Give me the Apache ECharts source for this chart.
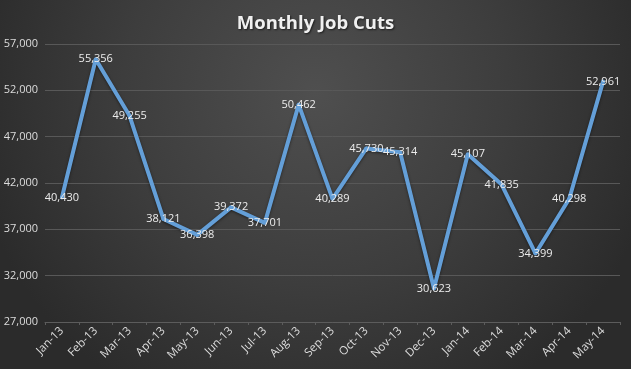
<!DOCTYPE html>
<html>
<head>
<meta charset="utf-8">
<script src="https://cdn.jsdelivr.net/npm/echarts@6/dist/echarts.min.js"></script>
<style>html,body{margin:0;padding:0;background:#2e2e2e}#c{width:631px;height:369px}</style>
</head>
<body>
<div id="c"></div>
<script>
var categories = ['Jan-13','Feb-13','Mar-13','Apr-13','May-13','Jun-13','Jul-13','Aug-13','Sep-13','Oct-13','Nov-13','Dec-13','Jan-14','Feb-14','Mar-14','Apr-14','May-14'];
var jobCuts = [40430,55356,49255,38121,36398,39372,37701,50462,40289,45730,45314,30623,45107,41835,34399,40298,52961];
var yMin = 27000, yMax = 57000, yStep = 5000;
var titleText = 'Monthly Job Cuts';

var chart = echarts.init(document.getElementById('c'), null, {renderer:'canvas'});
function fmt(v){ return Number(v).toLocaleString('en-US'); }
chart.setOption({
  backgroundColor: {
    type: 'radial', x: 0.5, y: 0.25, r: 0.95,
    colorStops: [{offset:0, color:'#4f4f4f'},{offset:0.55, color:'#3d3d3d'},{offset:1, color:'#2b2b2b'}]
  },
  animation: false,
  title: {
    text: titleText, left: 'center', top: 9,
    textStyle: {color:'#f0f0f0', fontFamily:'Open Sans', fontWeight:'bold', fontSize:18.5,
      textShadowColor:'rgba(0,0,0,0.6)', textShadowBlur:2, textShadowOffsetX:1, textShadowOffsetY:1}
  },
  grid: {left:45, right:11, top:44, bottom:47, containLabel:false},
  xAxis: {
    type:'category', data: categories, boundaryGap: true,
    axisLine: {show:true, lineStyle:{color:'#5c5c5c', width:1}},
    axisTick: {show:true, length:3, lineStyle:{color:'#5c5c5c'}},
    axisLabel: {rotate:45, margin:7, color:'#dcdcdc', fontFamily:'Open Sans', fontSize:11.5, interval:0}
  },
  yAxis: {
    type:'value', min:yMin, max:yMax, interval:yStep,
    axisLine:{show:false}, axisTick:{show:false},
    splitLine:{lineStyle:{color:'#585858', width:1}},
    axisLabel:{formatter: fmt, color:'#dcdcdc', fontFamily:'Open Sans', fontSize:11, margin:7, align:'right'}
  },
  series: [{
    type:'line', data: jobCuts,
    symbol:'circle', symbolSize:4, showSymbol:true,
    itemStyle:{color:'#649fd8'},
    lineStyle:{color:'#649fd8', width:4, shadowColor:'rgba(0,0,0,0.5)', shadowBlur:3, shadowOffsetY:1},
    label:{show:true, position:'inside', formatter:function(p){return fmt(p.value);},
      color:'#ececec', fontFamily:'Open Sans', fontSize:11}
  }]
});
</script>
</body>
</html>
